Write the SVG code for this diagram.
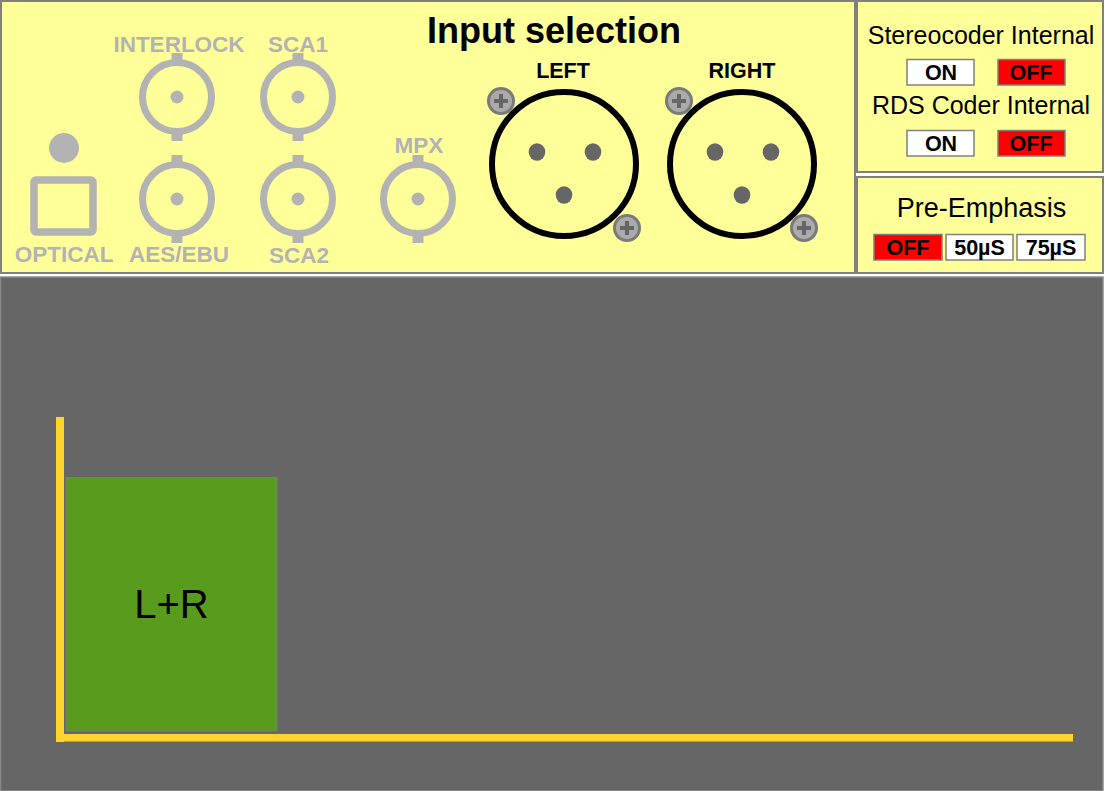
<svg xmlns="http://www.w3.org/2000/svg" width="1105" height="791" viewBox="0 0 1105 791">
<defs>
<style>
.panel{fill:#ffff99;stroke:#808080;stroke-width:2}
.glab{font-family:"Liberation Sans",Arial,sans-serif;font-weight:bold;font-size:22.5px;fill:#b3b3b3;text-anchor:middle}
.blab{font-family:"Liberation Sans",Arial,sans-serif;font-weight:bold;font-size:21.5px;fill:#000;text-anchor:middle}
.rlab{font-family:"Liberation Sans",Arial,sans-serif;font-size:25px;fill:#000;text-anchor:middle}
.btn{font-family:"Liberation Sans",Arial,sans-serif;font-weight:bold;font-size:21.5px;fill:#000;text-anchor:middle}
.on{fill:#fff;stroke:#808080;stroke-width:1.5}
.off{fill:#ff0000;stroke:#808080;stroke-width:1.5}
.bncring{fill:none;stroke:#b3b3b3;stroke-width:7}
.gray{fill:#b3b3b3}
.xlr{fill:none;stroke:#000;stroke-width:6}
.pin{fill:#666666}
.screw{fill:#aaaaaa;stroke:#7a7a7a;stroke-width:3}
.plus{stroke:#666666;stroke-width:4}
</style>
<g id="bnc">
<rect class="gray" x="-5.5" y="-44" width="11" height="9"/>
<rect class="gray" x="-5.5" y="35" width="11" height="9"/>
<circle class="bncring" r="34.5"/>
<circle class="gray" r="6.5"/>
</g>
<g id="screw">
<circle class="screw" r="12.5"/>
<path class="plus" d="M-7 0H7M0 -7V7"/>
</g>
</defs>

<g id="main-panel">
<rect class="panel" x="1" y="1" width="854" height="272"/>
<text x="554" y="43" font-family="Liberation Sans, Arial, sans-serif" font-weight="bold" font-size="36" text-anchor="middle" fill="#000">Input selection</text>
</g>

<g id="interlock">
<text class="glab" x="179" y="52">INTERLOCK</text>
<use href="#bnc" x="177" y="97"/>
</g>
<g id="sca1">
<text class="glab" x="298" y="52">SCA1</text>
<use href="#bnc" x="298" y="97"/>
</g>
<g id="aes-ebu">
<use href="#bnc" x="177" y="199"/>
<text class="glab" x="179" y="262">AES/EBU</text>
</g>
<g id="sca2">
<use href="#bnc" x="298" y="199"/>
<text class="glab" x="299" y="263">SCA2</text>
</g>
<g id="mpx">
<text class="glab" x="419" y="153">MPX</text>
<use href="#bnc" x="418" y="199"/>
</g>
<g id="optical">
<circle class="gray" cx="64" cy="148" r="15"/>
<rect x="34" y="180" width="59" height="52" rx="2" fill="none" stroke="#b3b3b3" stroke-width="7.5"/>
<text class="glab" x="64" y="262">OPTICAL</text>
</g>

<g id="left-xlr">
<text class="blab" x="563" y="78">LEFT</text>
<circle class="xlr" cx="564" cy="164" r="72"/>
<ellipse class="pin" cx="537" cy="152" rx="8.3" ry="8.8"/>
<ellipse class="pin" cx="593" cy="152" rx="8.3" ry="8.8"/>
<ellipse class="pin" cx="564" cy="195" rx="8.3" ry="8.8"/>
<use href="#screw" x="501" y="101"/>
<use href="#screw" x="627" y="228"/>
</g>
<g id="right-xlr">
<text class="blab" x="742" y="78">RIGHT</text>
<circle class="xlr" cx="742" cy="164" r="72"/>
<ellipse class="pin" cx="715" cy="152" rx="8.3" ry="8.8"/>
<ellipse class="pin" cx="771" cy="152" rx="8.3" ry="8.8"/>
<ellipse class="pin" cx="742" cy="195" rx="8.3" ry="8.8"/>
<use href="#screw" x="679" y="101"/>
<use href="#screw" x="804" y="228"/>
</g>

<g id="coder-panel">
<rect class="panel" x="857" y="1" width="246" height="171"/>
<text class="rlab" x="981" y="44">Stereocoder Internal</text>
<rect class="on" x="907" y="59.5" width="67" height="25.5"/>
<text class="btn" x="941" y="80">ON</text>
<rect class="off" x="998" y="59.5" width="67" height="25.5"/>
<text class="btn" x="1031" y="80">OFF</text>
<text class="rlab" x="981" y="114">RDS Coder Internal</text>
<rect class="on" x="907" y="130.5" width="67" height="25.5"/>
<text class="btn" x="941" y="151">ON</text>
<rect class="off" x="998" y="130.5" width="67" height="25.5"/>
<text class="btn" x="1031" y="151">OFF</text>
</g>

<g id="pre-emphasis-panel">
<rect class="panel" x="857" y="177" width="246" height="96"/>
<text class="rlab" x="981.5" y="217" style="font-size:27px">Pre-Emphasis</text>
<rect class="off" x="874" y="234.5" width="68" height="25.5"/>
<text class="btn" x="908" y="255">OFF</text>
<rect class="on" x="946" y="234.5" width="67" height="25.5"/>
<text class="btn" x="979.5" y="255">50µS</text>
<rect class="on" x="1017" y="234.5" width="68" height="25.5"/>
<text class="btn" x="1051" y="255">75µS</text>
</g>

<g id="spectrum">
<rect x="0.5" y="277" width="1102.5" height="514" fill="#666666" stroke="#8a8a8a" stroke-width="1.5"/>
</g>

<g id="lr-band">
<rect x="66" y="477.5" width="211" height="253.5" fill="#589b1d" stroke="#7a7a7a" stroke-width="1"/>
<text x="171.5" y="618" font-family="Liberation Sans, Arial, sans-serif" font-size="40" text-anchor="middle" fill="#000">L+R</text>
</g>

<g id="connectors">
<rect x="56" y="417" width="8" height="325" fill="#ffd42a"/>
<rect x="56" y="734" width="1017" height="7.5" fill="#ffd42a"/>
</g>
</svg>
